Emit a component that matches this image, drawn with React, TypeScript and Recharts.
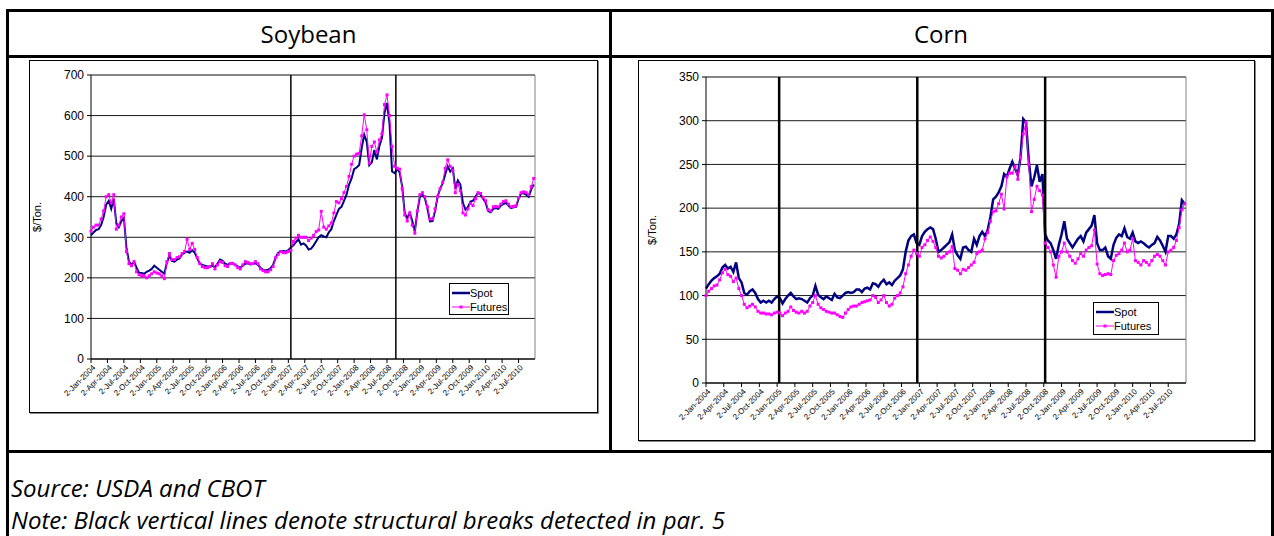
import React from 'react'
import { LineChart, Line, XAxis, YAxis, CartesianGrid, ReferenceLine, Legend } from 'recharts'

// ─── data ─────────────────────────────────────────────────────────────────
// Weekly prices sampled every second week, starting 2-Jan-2004 (week 0).

const QUARTER_LABELS = [
  '2-Jan-2004', '2-Apr-2004', '2-Jul-2004', '2-Oct-2004',
  '2-Jan-2005', '2-Apr-2005', '2-Jul-2005', '2-Oct-2005',
  '2-Jan-2006', '2-Apr-2006', '2-Jul-2006', '2-Oct-2006',
  '2-Jan-2007', '2-Apr-2007', '2-Jul-2007', '2-Oct-2007',
  '2-Jan-2008', '2-Apr-2008', '2-Jul-2008', '2-Oct-2008',
  '2-Jan-2009', '2-Apr-2009', '2-Jul-2009', '2-Oct-2009',
  '2-Jan-2010', '2-Apr-2010', '2-Jul-2010',
]
const WEEKS_PER_QUARTER = 13
const WEEK_STEP = 2
const LAST_WEEK = 351

const SOY_SPOT = [
  305, 312, 318, 320, 330, 350, 380, 390, 370, 395,
  335, 325, 340, 348, 275, 240, 232, 240, 225, 212,
  212, 210, 215, 218, 222, 230, 225, 220, 215, 210,
  238, 255, 242, 240, 245, 248, 258, 262, 265, 262,
  268, 262, 248, 235, 232, 230, 228, 228, 230, 226,
  235, 245, 242, 235, 232, 236, 235, 232, 228, 225,
  230, 235, 236, 233, 235, 236, 232, 225, 220, 218,
  220, 224, 232, 250, 262, 265, 266, 265, 268, 275,
  280, 288, 295, 282, 285, 280, 270, 272, 280, 290,
  300, 305, 302, 300, 312, 320, 340, 355, 370, 375,
  390, 405, 430, 445, 468, 472, 478, 520, 553, 535,
  478, 485, 515, 492, 525, 545, 606, 631, 580, 462,
  458, 468, 460, 425, 360, 347, 360, 340, 314, 364,
  400, 405, 396, 370, 339, 340, 365, 400, 420, 433,
  455, 475, 462, 470, 420, 440, 430, 385, 368, 375,
  388, 390, 400, 410, 405, 395, 385, 365, 362, 370,
  372, 370, 378, 382, 385, 378, 372, 374, 375, 395,
  409, 408, 405, 400, 418, 430,
]

const SOY_FUTURES = [
  315, 325, 330, 330, 345, 365, 400, 405, 385, 405,
  320, 330, 350, 358, 265, 235, 230, 240, 215, 208,
  205, 205, 200, 205, 210, 215, 212, 210, 205, 198,
  240, 260, 245, 245, 250, 252, 260, 265, 295, 270,
  285, 270, 250, 235, 228, 225, 225, 228, 235, 222,
  232, 240, 238, 230, 228, 235, 236, 232, 225, 222,
  232, 240, 238, 235, 235, 240, 235, 222, 218, 215,
  215, 220, 228, 250, 258, 265, 262, 262, 265, 268,
  290, 298, 305, 300, 300, 300, 292, 298, 305, 314,
  318, 364, 325, 320, 328, 335, 360, 388, 385, 395,
  410, 425, 450, 480, 500, 505, 507, 550, 602, 565,
  483, 524, 535, 510, 540, 555, 627, 651, 600, 524,
  475, 470, 468, 420, 355, 340, 360, 330, 310, 365,
  405, 410, 400, 375, 345, 345, 370, 400, 420, 435,
  470, 491, 475, 465, 410, 430, 415, 360, 355, 370,
  383, 378, 395, 410, 408, 398, 390, 368, 365, 375,
  376, 375, 382, 388, 390, 382, 375, 376, 378, 398,
  410, 412, 410, 405, 425, 445,
]

const CORN_SPOT = [
  108, 113, 117, 120, 122, 125, 132, 135, 131, 133,
  127, 138, 120, 115, 103, 101, 105, 107, 103, 96,
  92, 94, 92, 94, 92, 96, 99, 97, 91, 96,
  100, 103, 99, 96, 97, 96, 94, 92, 97, 100,
  111, 101, 98, 96, 99, 97, 95, 102, 98, 97,
  100, 103, 104, 103, 104, 107, 107, 104, 108, 109,
  107, 114, 113, 110, 115, 118, 113, 115, 112, 117,
  120, 123, 130, 150, 163, 168, 170, 160, 158, 168,
  173, 176, 178, 176, 165, 150, 152, 155, 158, 161,
  170, 152, 146, 142, 155, 156, 152, 150, 165, 158,
  168, 173, 168, 175, 190, 210, 213, 218, 225, 239,
  236, 245, 253, 245, 238, 258, 302, 298, 255, 225,
  235, 249, 230, 239, 170, 163, 160, 152, 142, 158,
  170, 185, 165, 160, 155, 160, 165, 168, 162, 172,
  176, 180, 192, 160, 152, 152, 155, 145, 142, 158,
  166, 170, 168, 177, 167, 165, 172, 162, 160, 162,
  160, 157, 155, 158, 160, 167, 163, 157, 150, 168,
  168, 165, 170, 182, 209, 205,
]

const CORN_FUTURES = [
  100, 105, 108, 111, 112, 118, 126, 130, 124, 122,
  116, 120, 108, 100, 90, 86, 88, 90, 87, 82,
  80, 80, 79, 79, 78, 80, 81, 80, 77, 80,
  82, 87, 83, 81, 80, 82, 80, 82, 88, 92,
  100, 90, 86, 84, 82, 81, 80, 80, 78, 76,
  75, 80, 84, 87, 88, 88, 90, 92, 93, 94,
  95, 100, 98, 92, 95, 100, 92, 88, 90, 97,
  100, 103, 110, 125, 135, 145, 152, 148, 145, 155,
  158, 163, 167, 162, 155, 145, 143, 145, 148, 150,
  156, 131, 129, 125, 130, 129, 132, 135, 138, 148,
  150, 152, 165, 172, 185, 196, 197, 205, 216, 199,
  236, 240, 240, 248, 233, 258, 285, 298, 250, 196,
  210, 225, 220, 215, 160, 155, 150, 135, 121, 145,
  150, 160, 150, 145, 140, 137, 142, 148, 145, 152,
  155, 157, 175, 136, 125, 123, 124, 125, 124, 140,
  146, 148, 152, 160, 150, 152, 165, 140, 138, 135,
  140, 138, 135, 140, 145, 147, 145, 140, 135, 150,
  152, 155, 163, 178, 198, 205,
]

// structural breaks, in weeks since 2-Jan-2004
const SOY_BREAKS = [158, 241]
const CORN_BREAKS = [53.5, 154.5, 248]

// ─── helpers ──────────────────────────────────────────────────────────────

const TICK_WEEKS = QUARTER_LABELS.map((_, i) => i * WEEKS_PER_QUARTER)
const labelForWeek = (w: number) => QUARTER_LABELS[Math.round(w / WEEKS_PER_QUARTER)] ?? ''

function buildRows(spot: number[], futures: number[]) {
  return spot.map((v, i) => ({ week: i * WEEK_STEP, spot: v, futures: futures[i] }))
}

const ARIAL = '"Liberation Sans", Arial, sans-serif'
const BODY_FONT = '"Open Sans", "Noto Sans", sans-serif'

function DateTick({ x, y, payload }: any) {
  const tx = x + 3
  const ty = y + 1
  return (
    <text
      x={tx}
      y={ty}
      transform={`rotate(-45 ${tx} ${ty})`}
      textAnchor="end"
      dy="0.35em"
      fontSize={8}
      fontFamily={ARIAL}
      fill="#000"
    >
      {labelForWeek(payload.value)}
    </text>
  )
}

function FuturesDot({ cx, cy }: any) {
  if (cx == null || cy == null) return null
  return <rect x={cx - 1.5} y={cy - 1.5} width={3} height={3} fill="#ff00ff" />
}

function LegendBox({ width, height }: { width: number; height: number }) {
  return (
    <div style={{ width, height, border: '1px solid #000', background: '#fff', boxSizing: 'border-box', fontFamily: ARIAL, fontSize: 11, color: '#000', padding: '2px 0 0 2px' }}>
      <div style={{ display: 'flex', alignItems: 'center', height: 14 }}>
        <svg width={18} height={6}><line x1={0} y1={3} x2={18} y2={3} stroke="#000080" strokeWidth={2.5} /></svg>
        <span>Spot</span>
      </div>
      <div style={{ display: 'flex', alignItems: 'center', height: 14 }}>
        <svg width={18} height={6}>
          <line x1={0} y1={3} x2={18} y2={3} stroke="#ff00ff" strokeWidth={1} />
          <rect x={7.5} y={1.5} width={3} height={3} fill="#ff00ff" />
        </svg>
        <span>Futures</span>
      </div>
    </div>
  )
}

// ─── one panel ────────────────────────────────────────────────────────────

interface PanelProps {
  width: number
  height: number
  top: number
  right: number
  xHeight: number
  yWidth: number
  yLabelX: number
  yMax: number
  yTicks: number[]
  spot: number[]
  futures: number[]
  breaks: number[]
  breakWidth: number
  spotWidth: number
  legendPos: { left: number; top: number; width: number; height: number }
}

function PricePanel(p: PanelProps) {
  const rows = buildRows(p.spot, p.futures)
  const yLabel = ({ viewBox }: any) => {
    const cy = viewBox.y + viewBox.height / 2
    return (
      <text x={p.yLabelX} y={cy} transform={`rotate(-90 ${p.yLabelX} ${cy})`} textAnchor="middle" fontSize={11} fontFamily={ARIAL} fill="#000">
        $/Ton.
      </text>
    )
  }
  return (
    <LineChart width={p.width} height={p.height} data={rows} margin={{ top: p.top, right: p.right, left: 0, bottom: 0 }}>
      <CartesianGrid vertical={false} stroke="#000" strokeOpacity={0.9} />
      <XAxis
        type="number"
        dataKey="week"
        domain={[0, LAST_WEEK]}
        ticks={TICK_WEEKS}
        interval={0}
        tick={<DateTick />}
        tickSize={4}
        axisLine={{ stroke: '#000' }}
        tickLine={{ stroke: '#000' }}
        height={p.xHeight}
      />
      <YAxis
        domain={[0, p.yMax]}
        ticks={p.yTicks}
        interval={0}
        width={p.yWidth}
        tickSize={4}
        tickMargin={3}
        axisLine={{ stroke: '#000' }}
        tickLine={{ stroke: '#000' }}
        tick={{ fill: '#000', fontSize: 12, fontFamily: ARIAL }}
        label={yLabel}
      />
      <ReferenceLine y={p.yMax} stroke="#808080" />
      <ReferenceLine x={LAST_WEEK} stroke="#808080" />
      <Line type="linear" dataKey="spot" name="Spot" stroke="#000080" strokeWidth={p.spotWidth} dot={false} isAnimationActive={false} />
      <Line type="linear" dataKey="futures" name="Futures" stroke="#ff00ff" strokeWidth={1} dot={<FuturesDot />} isAnimationActive={false} />
      {p.breaks.map(b => (
        <ReferenceLine key={b} x={b} stroke="#000" strokeWidth={p.breakWidth} />
      ))}
      <Legend
        layout="vertical"
        align="center"
        verticalAlign="middle"
        wrapperStyle={{ left: p.legendPos.left, top: p.legendPos.top, width: p.legendPos.width, height: p.legendPos.height }}
        content={() => <LegendBox width={p.legendPos.width} height={p.legendPos.height} />}
      />
    </LineChart>
  )
}

// ─── page ─────────────────────────────────────────────────────────────────

const rule = (style: React.CSSProperties) => <div style={{ position: 'absolute', background: '#000', ...style }} />

const headerStyle: React.CSSProperties = {
  position: 'absolute', top: 11, height: 44, display: 'flex', alignItems: 'center', justifyContent: 'center',
  fontFamily: BODY_FONT, fontSize: 24, color: '#000',
}
const noteStyle: React.CSSProperties = {
  position: 'absolute', left: 11, fontFamily: BODY_FONT, fontStyle: 'italic', fontSize: 24, lineHeight: '32px', color: '#000', whiteSpace: 'nowrap',
}

export default function App() {
  return (
    <div style={{ position: 'absolute', left: 0, top: 0, width: 1274, height: 536, background: '#fff', overflow: 'hidden' }}>
      {/* table rules */}
      {rule({ left: 6, top: 9, width: 1267, height: 2.5 })}
      {rule({ left: 6, top: 55, width: 1267, height: 2.5 })}
      {rule({ left: 6, top: 450, width: 1267, height: 2.5 })}
      {rule({ left: 6, top: 9, width: 2.5, height: 527 })}
      {rule({ left: 1271, top: 9, width: 2.5, height: 527 })}
      {rule({ left: 609, top: 9, width: 2.5, height: 443 })}

      <div style={{ ...headerStyle, left: 8, width: 601 }}>Soybean</div>
      <div style={{ ...headerStyle, left: 611, width: 660 }}>Corn</div>

      {/* soybean chart */}
      <div style={{ position: 'absolute', left: 29, top: 60, width: 569, height: 353, border: '1px solid #000', boxShadow: '1px 1px 0 #888', boxSizing: 'border-box' }}>
        <PricePanel
          width={567}
          height={351}
          top={14}
          right={62}
          xHeight={53}
          yWidth={61}
          yLabelX={11}
          yMax={700}
          yTicks={[0, 100, 200, 300, 400, 500, 600, 700]}
          spot={SOY_SPOT}
          futures={SOY_FUTURES}
          breaks={SOY_BREAKS}
          breakWidth={1.5}
          spotWidth={2}
          legendPos={{ left: 419, top: 222, width: 60, height: 32 }}
        />
      </div>

      {/* corn chart */}
      <div style={{ position: 'absolute', left: 638, top: 60, width: 617, height: 381, border: '1px solid #000', boxShadow: '1px 1px 0 #888', boxSizing: 'border-box' }}>
        <PricePanel
          width={615}
          height={379}
          top={16}
          right={68}
          xHeight={57}
          yWidth={67}
          yLabelX={17}
          yMax={350}
          yTicks={[0, 50, 100, 150, 200, 250, 300, 350]}
          spot={CORN_SPOT}
          futures={CORN_FUTURES}
          breaks={CORN_BREAKS}
          breakWidth={2.5}
          spotWidth={2.5}
          legendPos={{ left: 454, top: 241, width: 66, height: 33 }}
        />
      </div>

      <div style={{ ...noteStyle, top: 472 }}>Source: USDA and CBOT</div>
      <div style={{ ...noteStyle, top: 504 }}>Note: Black vertical lines denote structural breaks detected in par. 5</div>
    </div>
  )
}
